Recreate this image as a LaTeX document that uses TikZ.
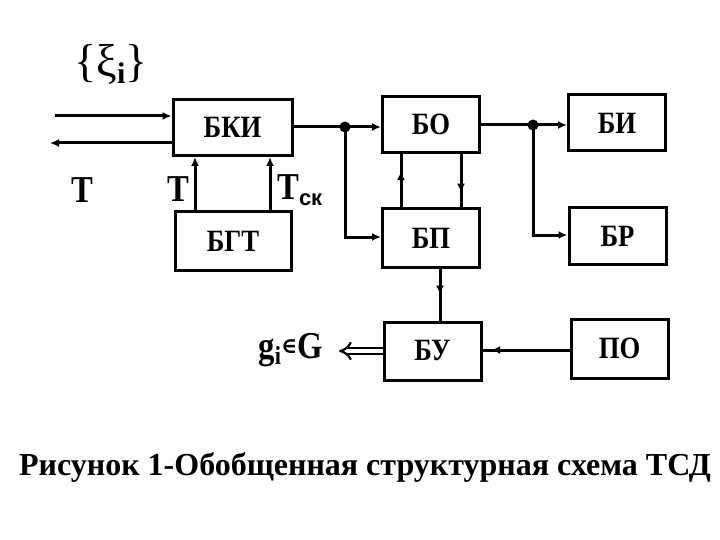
\documentclass[tikz,border=0pt]{standalone}
\usepackage{amsmath}
\usepackage{fontspec}
\setmainfont{Liberation Serif}
\setsansfont{Liberation Sans}
\newfontfamily\blkfont{Liberation Serif}[FakeStretch=0.86]
\newfontfamily\symfont{DejaVu Serif}
\usetikzlibrary{arrows.meta,decorations.markings}

\tikzset{
  blk/.style={draw, line width=3pt, minimum width=97pt, minimum height=56pt,
    inner sep=0pt, font=\fontsize{31}{31}\blkfont\bfseries},
  wire/.style={line width=3pt},
  arr/.style={wire, -{Latex[length=9pt,width=8pt]}},
  midarr/.style={wire, decoration={markings,
    mark=at position #1 with {\arrow{Latex[length=9pt,width=8pt]}}},
    postaction={decorate}},
  lbl/.style={font=\fontsize{38}{38}\blkfont\bfseries, inner sep=0pt},
  joint/.style={fill, circle, inner sep=0pt, minimum size=11pt}
}

\begin{document}
\begin{tikzpicture}[x=1pt, y=-1pt]
    \useasboundingbox (0,0) rectangle (720,540);

    % blocks
    \node[blk, minimum width=119pt] (BKI) at (232.5,127.5) {БКИ};
    \node[blk, minimum width=116pt, minimum height=58pt] (BGT) at (233,241) {БГТ};
    \node[blk] (BO) at (431,124.5) {БО};
    \node[blk, minimum height=58pt] (BP) at (431,238) {БП};
    \node[blk] (BI) at (617,123) {БИ};
    \node[blk] (BR) at (617.5,236) {БР};
    \node[blk, minimum height=58pt] (BU) at (432.5,351) {БУ};
    \node[blk, minimum height=59pt] (PO) at (619.5,348.5) {ПО};

    % inputs and outputs of BKI
    \coordinate (in1) at (55,116);
    \coordinate (out1) at (50,143);
    \draw[arr] (in1) -- (in1 -| BKI.west);
    \draw[arr] (out1 -| BKI.west) -- (out1);
    \node[lbl, font=\fontsize{46}{46}\selectfont] (xi) at (111,64)
        {\{ξ\raisebox{-7pt}{\fontsize{30}{30}\selectfont\bfseries i}\}};
    \node[lbl] (T0) at (82,190) {Т};

    % BGT to BKI
    \coordinate (g1) at ([xshift=-38pt]BGT.north);
    \coordinate (g2) at ([xshift=37pt]BGT.north);
    \draw[arr] (g1) -- (g1 |- BKI.south);
    \draw[arr] (g2) -- (g2 |- BKI.south);
    \node[lbl, anchor=east] (T1) at (189,189) {Т};
    \node[lbl, anchor=west] (T2) at (277,190)
        {Т\raisebox{-6pt}{\fontsize{22}{22}\sffamily\bfseries ск}};

    % BKI to BO and BP
    \coordinate (d1) at (345,127);
    \draw[wire] (BKI.east |- d1) -- (d1);
    \draw[arr] (d1) -- (d1 -| BO.west);
    \draw[arr] (d1) |- (BP.west |- 0,237);
    \node[joint] (j1) at (d1) {};

    % BO <-> BP
    \coordinate (p1) at (401,0);
    \coordinate (p2) at (461,0);
    \draw[midarr=0.68] (p1 |- BP.north) -- (p1 |- BO.south);
    \draw[midarr=0.72] (p2 |- BO.south) -- (p2 |- BP.north);

    % BO to BI and BR
    \coordinate (d2) at (533,125);
    \draw[wire] (BO.east |- d2) -- (d2);
    \draw[arr] (d2) -- (d2 -| BI.west);
    \draw[arr] (d2) |- (BR.west |- 0,235);
    \node[joint] (j2) at (d2) {};

    % BP to BU, PO to BU
    \coordinate (p3) at (440,0);
    \draw[midarr=0.5] (p3 |- BP.south) -- (p3 |- BU.north);
    \draw[midarr=0.9] (PO.west |- 0,350) -- (BU.east |- 0,350);

    % output of BU
    \coordinate (gout) at (339,351);
    \draw[line width=2.2pt, double distance=4pt, -{Implies[length=10pt]}] (BU.west |- gout) -- (gout);
    \node[lbl, anchor=east, font=\fontsize{38}{38}\blkfont\bfseries] (gi) at (323,350)
        {g\raisebox{-6pt}{\fontsize{26}{26}\selectfont i}\raisebox{5pt}{\fontsize{22}{22}\symfont\bfseries ∈}G};

    % caption
    \node[font=\fontsize{32}{32}\selectfont\bfseries, inner sep=0pt] (cap) at (365,467)
        {Рисунок 1-Обобщенная структурная схема ТСД};
\end{tikzpicture}
\end{document}
